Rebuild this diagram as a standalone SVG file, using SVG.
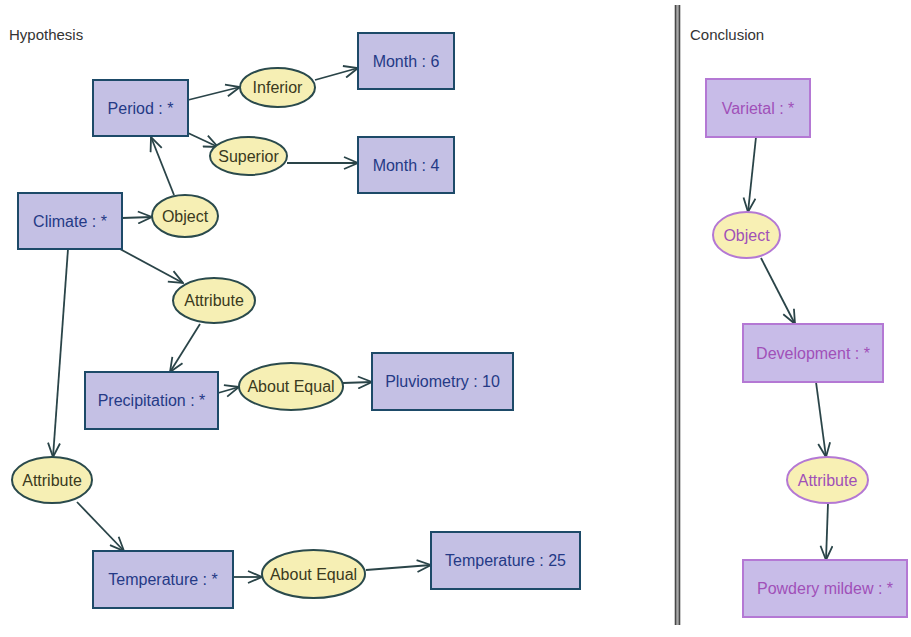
<svg xmlns="http://www.w3.org/2000/svg" width="911" height="637" viewBox="0 0 911 637">
<style>
.box{fill:#c4c0e4;stroke:#1d4a68;stroke-width:2}
.ell{fill:#f6efb4;stroke:#2a4a4c;stroke-width:2}
.cbox{fill:#c8bce8;stroke:#b478d4;stroke-width:2}
.cell{fill:#f8f0b4;stroke:#b478d4;stroke-width:2}
.t{font-family:"Liberation Sans",Arial,sans-serif;font-size:16px;text-anchor:middle;dominant-baseline:central}
.bt{fill:#253a86}
.et{fill:#3a3a20}
.ct{fill:#a050b8}
.title{font-family:"Liberation Sans",Arial,sans-serif;font-size:15px;fill:#333}
.c{stroke:#2a4448;stroke-width:1.8;fill:none;marker-end:url(#arr)}
</style>
<defs>
<marker id="arr" viewBox="0 0 16 14" refX="15" refY="7" markerWidth="16" markerHeight="14" markerUnits="userSpaceOnUse" orient="auto">
<path d="M1,1 L15,7 L1,13" fill="none" stroke="#2a4448" stroke-width="1.8"/>
</marker>
</defs>
<rect width="911" height="637" fill="#ffffff"/>
<text class="title" x="9" y="40">Hypothesis</text>
<text class="title" x="690" y="40">Conclusion</text>
<g id="divider">
<rect x="675" y="5" width="5" height="620" fill="#a8a8a8"/>
<line x1="675.5" y1="5" x2="675.5" y2="625" stroke="#484848" stroke-width="1.6"/>
<line x1="679.5" y1="5" x2="679.5" y2="625" stroke="#484848" stroke-width="1.6"/>
</g>
<g id="connectors">
<line class="c" x1="188" y1="100" x2="240" y2="87"/>
<line class="c" x1="315" y1="80" x2="358" y2="68"/>
<line class="c" x1="188" y1="133" x2="218" y2="147"/>
<line class="c" x1="287" y1="163" x2="358" y2="163"/>
<line class="c" x1="174" y1="195" x2="151" y2="137"/>
<line class="c" x1="122" y1="218" x2="152" y2="217"/>
<line class="c" x1="120" y1="249" x2="183" y2="283"/>
<line class="c" x1="200" y1="324" x2="170" y2="372"/>
<line class="c" x1="218" y1="393" x2="239" y2="387"/>
<line class="c" x1="343" y1="383" x2="372" y2="382"/>
<line class="c" x1="68" y1="249" x2="53" y2="457"/>
<line class="c" x1="77" y1="502" x2="124" y2="551"/>
<line class="c" x1="233" y1="577" x2="262" y2="577"/>
<line class="c" x1="366" y1="570" x2="431" y2="565"/>
<line class="c" x1="756" y1="137" x2="748" y2="212"/>
<line class="c" x1="761" y1="258" x2="795" y2="324"/>
<line class="c" x1="816" y1="382" x2="826" y2="457"/>
<line class="c" x1="828" y1="503" x2="826" y2="560"/>
</g>
<g id="period"><rect class="box" x="93" y="80" width="95" height="56"/><text class="t bt" x="140.5" y="108">Period : *</text></g>
<g id="month6"><rect class="box" x="358" y="33" width="96" height="56"/><text class="t bt" x="406" y="61">Month : 6</text></g>
<g id="month4"><rect class="box" x="358" y="137" width="96" height="56"/><text class="t bt" x="406" y="165">Month : 4</text></g>
<g id="inferior"><ellipse class="ell" cx="277.5" cy="87.5" rx="37.5" ry="19.5"/><text class="t et" x="277.5" y="87.5">Inferior</text></g>
<g id="superior"><ellipse class="ell" cx="248.5" cy="156" rx="38.5" ry="19"/><text class="t et" x="248.5" y="156">Superior</text></g>
<g id="object"><ellipse class="ell" cx="185" cy="216" rx="33" ry="21"/><text class="t et" x="185" y="216">Object</text></g>
<g id="climate"><rect class="box" x="18" y="193" width="104" height="56"/><text class="t bt" x="70" y="221">Climate : *</text></g>
<g id="attribute1"><ellipse class="ell" cx="214" cy="300.5" rx="41" ry="22.5"/><text class="t et" x="214" y="300.5">Attribute</text></g>
<g id="precipitation"><rect class="box" x="85" y="372" width="133" height="57"/><text class="t bt" x="151.5" y="400.5">Precipitation : *</text></g>
<g id="aboutequal1"><ellipse class="ell" cx="291" cy="386.5" rx="52" ry="23.5"/><text class="t et" x="291" y="386.5">About Equal</text></g>
<g id="pluviometry"><rect class="box" x="372" y="353" width="141" height="57"/><text class="t bt" x="442.5" y="381.5">Pluviometry : 10</text></g>
<g id="attribute2"><ellipse class="ell" cx="52" cy="480" rx="40" ry="23"/><text class="t et" x="52" y="480">Attribute</text></g>
<g id="temperature"><rect class="box" x="93" y="551" width="140" height="57"/><text class="t bt" x="163" y="579.5">Temperature : *</text></g>
<g id="aboutequal2"><ellipse class="ell" cx="313.5" cy="574" rx="51.5" ry="24"/><text class="t et" x="313.5" y="574">About Equal</text></g>
<g id="temperature25"><rect class="box" x="431" y="532" width="149" height="57"/><text class="t bt" x="505.5" y="560.5">Temperature : 25</text></g>
<g id="varietal"><rect class="cbox" x="706" y="79" width="104" height="58"/><text class="t ct" x="758" y="108">Varietal : *</text></g>
<g id="object2"><ellipse class="cell" cx="746.5" cy="235" rx="33.5" ry="23"/><text class="t ct" x="746.5" y="235">Object</text></g>
<g id="development"><rect class="cbox" x="743" y="324" width="140" height="58"/><text class="t ct" x="813" y="353">Development : *</text></g>
<g id="attribute3"><ellipse class="cell" cx="827.5" cy="480" rx="40.5" ry="23"/><text class="t ct" x="827.5" y="480">Attribute</text></g>
<g id="powdery"><rect class="cbox" x="743" y="560" width="164" height="57"/><text class="t ct" x="825" y="588.5">Powdery mildew : *</text></g>
</svg>
